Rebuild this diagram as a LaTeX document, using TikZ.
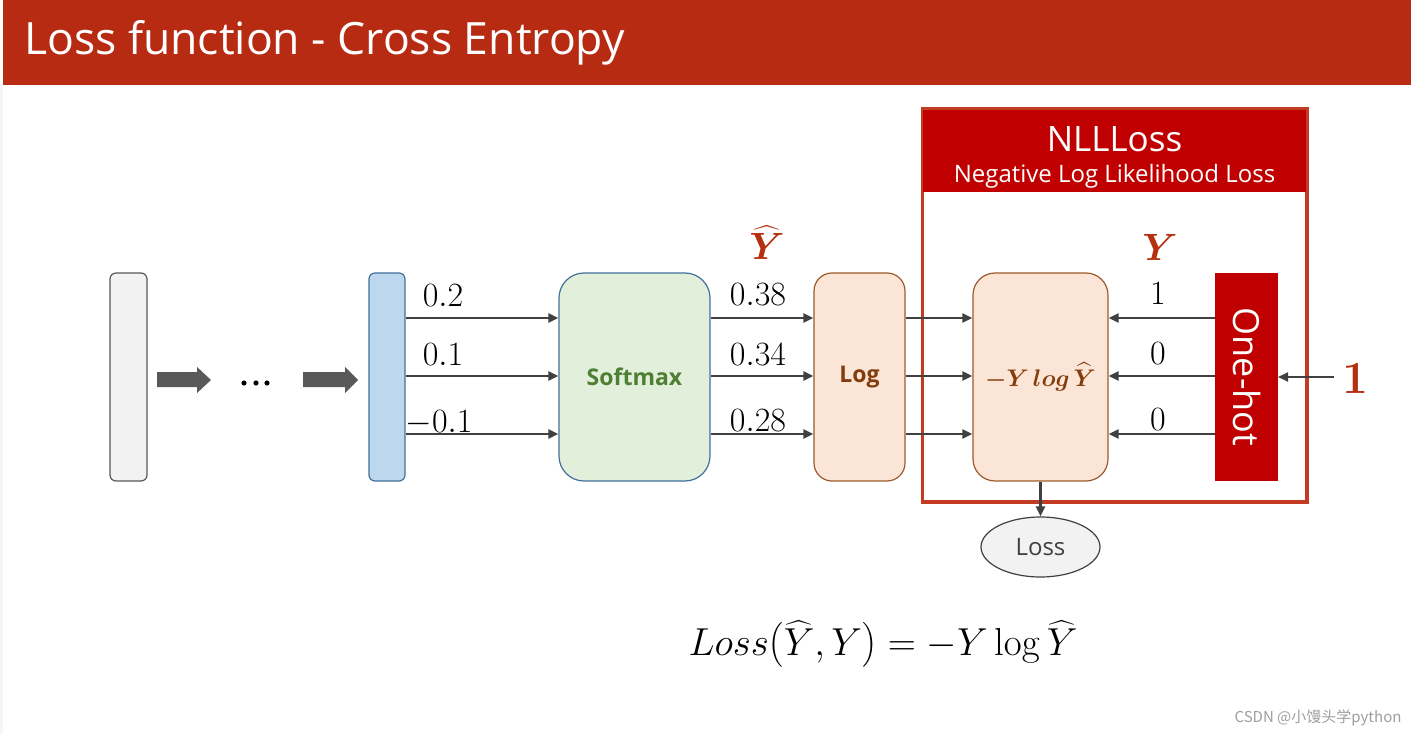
\RequirePackage{fix-cm}
\documentclass[tikz,border=0pt]{standalone}
\usepackage[no-math]{fontspec}
\usepackage{amsmath,bm}
\newfontfamily\osans{Open Sans}
\newfontfamily\cjk{Noto Sans CJK SC}
\usetikzlibrary{arrows.meta,shapes.geometric}
\definecolor{titlered}{HTML}{B82B13}
\definecolor{hdrred}{HTML}{C00000}
\definecolor{framered}{HTML}{C23B22}
\definecolor{labred}{HTML}{B5300F}
\definecolor{linegray}{HTML}{404040}
\definecolor{arrgray}{HTML}{595959}
\definecolor{boxgray}{HTML}{F2F2F2}
\definecolor{blueF}{HTML}{BDD7EE}
\definecolor{blueD}{HTML}{41719C}
\definecolor{greenF}{HTML}{E2EFDA}
\definecolor{greenT}{HTML}{4E7F35}
\definecolor{peachF}{HTML}{FBE5D6}
\definecolor{brownD}{HTML}{9C5A2C}
\definecolor{brownT}{HTML}{843C0C}
\begin{document}
\begin{tikzpicture}[x=1pt,y=-1pt,
  conn/.style={draw=linegray, line width=2.2pt, -{Triangle[length=10pt,width=9pt]}},
  vbox/.style={rectangle, minimum height=208pt, inner sep=0pt, line width=1.2pt},
  numlab/.style={anchor=base, font=\fontsize{34}{34}\selectfont},
  redlab/.style={anchor=base, text=labred, font=\fontsize{38}{38}\selectfont}]
\useasboundingbox (0,0) rectangle (1411,735);
\fill[white] (0,0) rectangle (1411,735);
\fill[boxgray!70] (0,85) rectangle (3,735);
\fill[titlered] (3,0) rectangle (1411,85);
\node[anchor=base west, text=white, inner sep=0pt, font=\osans\fontsize{44.5}{44.5}\selectfont] (title) at (24,55) {Loss function - Cross Entropy};

% first columns
\node[vbox, draw=arrgray, fill=boxgray, minimum width=37pt, rounded corners=6pt] (gray) at (128.5,377) {};
\node[vbox, draw=blueD, fill=blueF, minimum width=36pt, rounded corners=6pt] (blue) at (387,377) {};
\fill[arrgray] (157,372) -- (197,372) -- (197,367) -- (211,380) -- (197,393) -- (197,387) -- (157,387) -- cycle;
\fill[arrgray] (303,372) -- (345,372) -- (345,367) -- (358,380) -- (345,393) -- (345,387) -- (303,387) -- cycle;
\foreach \x in {244,256,267} \fill[black] (\x,383) circle (2.6pt);

% softmax, log
\node[vbox, draw=blueD, fill=greenF, minimum width=151pt, rounded corners=25pt, text=greenT, font=\osans\bfseries\fontsize{23}{23}\selectfont] (soft) at (634.5,377) {Softmax};
\node[vbox, draw=brownD, fill=peachF, minimum width=91pt, rounded corners=18pt, text=brownT, font=\osans\bfseries\fontsize{23}{23}\selectfont] (log) at (859.5,377) {Log};

% NLL frame
\node[rectangle, draw=framered, line width=2.5pt, minimum width=383pt, minimum height=391pt, inner sep=0pt] (nll) at (1114.5,305.5) {};
\fill[hdrred] (nll.north west) rectangle ([yshift=-83pt]nll.north east);
\draw[framered, line width=2.5pt] (nll.north west) rectangle (nll.south east);
\node[text=white, font=\osans\fontsize{35}{35}\selectfont, anchor=base] (nlltitle) at (1114.5,152) {NLLLoss};
\node[text=white, font=\osans\fontsize{24}{24}\selectfont, anchor=base] (nllsub) at (1114.5,183) {Negative Log Likelihood Loss};

\node[vbox, draw=brownD, fill=peachF, minimum width=135pt, rounded corners=22pt, text=brownT, font=\fontsize{24}{24}\selectfont] (ylog) at (1040.5,377) {$\bm{-Y\,log\,\widehat{Y}}$};
\node[vbox, fill=hdrred, minimum width=63pt, line width=0pt] (onehot) at (1246.5,377) {};
\node[rotate=-90, text=white, font=\osans\fontsize{36}{36}\selectfont] (ohtext) at (onehot.center) {One-hot};

% connectors
\foreach \s in {59,1,-57} {
  \draw[conn] ([yshift=\s pt]blue.east) -- ([yshift=\s pt]soft.west);
  \draw[conn] ([yshift=\s pt]soft.east) -- ([yshift=\s pt]log.west);
  \draw[conn] ([yshift=\s pt]log.east) -- ([yshift=\s pt]ylog.west);
  \draw[conn] ([yshift=\s pt]onehot.west) -- ([yshift=\s pt]ylog.east);
}
\coordinate (inone) at (1334,377);
\draw[conn] (inone) -- (onehot.east);
\node[anchor=base, text=labred, font=\fontsize{46}{46}\selectfont] (one) at (1355,393) {$\mathbf{1}$};

% labels
\node[numlab] (l1) at (443,307) {$0.2$};
\node[numlab] (l2) at (443,366) {$0.1$};
\node[numlab] (l3) at (439,432) {$-0.1$};
\node[numlab] (l4) at (758,306) {$0.38$};
\node[numlab] (l5) at (758,365) {$0.34$};
\node[numlab] (l6) at (758,431) {$0.28$};
\node[numlab] (l7) at (1158,305) {$1$};
\node[numlab] (l8) at (1158,364) {$0$};
\node[numlab] (l9) at (1158,430) {$0$};
\node[redlab] (yhat) at (767,260) {$\bm{\widehat{Y}}$};
\node[redlab] (ylab) at (1160,261) {$\bm{Y}$};

% loss
\node[ellipse, draw=linegray, fill=boxgray, line width=1.2pt, minimum width=119pt, minimum height=60pt, inner sep=0pt, text=linegray, font=\osans\fontsize{24}{24}\selectfont] (loss) at (1040.5,547) {Loss};
\draw[conn] (ylog.south) -- (loss.north);

% formula
\node[anchor=base, font=\fontsize{39}{39}\selectfont] (formula) at (883,655) {$Loss\bigl(\widehat{Y},Y\bigr)=-Y\log\widehat{Y}$};

% watermark
\node[anchor=base east, text=gray!75, font=\cjk\fontsize{15}{15}\selectfont] (wm) at (1405,722) {CSDN @小馒头学python};
\end{tikzpicture}
\end{document}
